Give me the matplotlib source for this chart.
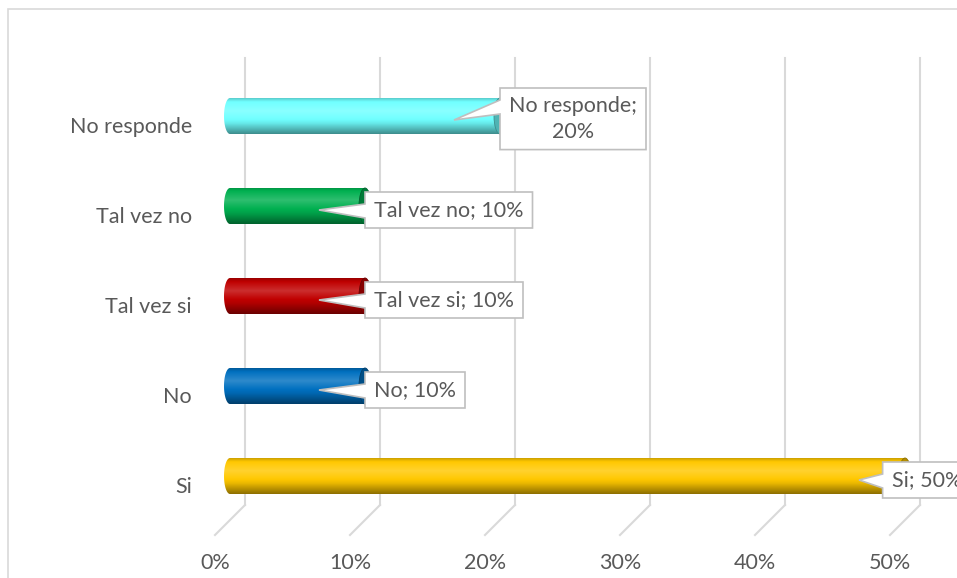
import matplotlib.pyplot as plt
import matplotlib.colors as mcolors
from matplotlib.patches import Ellipse, Polygon, Rectangle, PathPatch
from matplotlib.path import Path
import numpy as np

plt.rcParams['font.family'] = ['Lato', 'DejaVu Sans']

categories = ["Si", "No", "Tal vez si", "Tal vez no", "No responde"]
values = [50, 10, 10, 10, 20]
colors = ["#FFC800", "#0070C0", "#C00000", "#00B050", "#70FFFF"]
label_texts = ["Si; 50%", "No; 10%", "Tal vez si; 10%", "Tal vez no; 10%", "No responde;\n20%"]
xticks = [0, 10, 20, 30, 40, 50]

W, H = 957, 578
fig = plt.figure(figsize=(W / 100, H / 100), dpi=100)
ax = fig.add_axes([0, 0, 1, 1])

# the plot area is laid out in pixels: 0% at x=230, 13.5 px per percent, rows 90 px apart
pxu = 13.5
x0px, y0px, rowpx = 230, 476, 90
ax.set_xlim(-x0px / pxu, (W - x0px) / pxu)
ax.set_ylim((y0px - H) / rowpx, y0px / rowpx)
ax.axis("off")


def xd(px):
    return (px - x0px) / pxu


def yd(py):
    return (y0px - py) / rowpx


grid_c = "#d9d9d9"
text_c = "#595959"
fs = 15.5
depth = 15 / pxu

# outer chart frame
fig.patches.append(Rectangle((8 / W, -0.1), 1.2, 1.1 - 9 / H, transform=fig.transFigure,
                             fill=False, edgecolor=grid_c, lw=1.2))

# back-wall gridlines with floor slant
for v in xticks:
    ax.plot([v + depth, v + depth], [yd(58), yd(505)], color=grid_c, lw=1.5, zorder=1)
    ax.plot([v + depth, v - depth], [yd(505), yd(535)], color=grid_c, lw=1.5, zorder=1)
    ax.text(v - depth, yd(563), f"{v}%", ha="center", va="center", fontsize=fs, color=text_c)

for i, c in enumerate(categories):
    ax.text(xd(192), i - 11 / rowpx, c, ha="right", va="center", fontsize=fs, color=text_c)


def shade(c, f):
    rgb = np.array(mcolors.to_rgb(c))
    if f >= 1:
        return np.clip(rgb + (1 - rgb) * (f - 1), 0, 1)
    return rgb * f


h = 0.4
rx = 6 / pxu
tprof = np.linspace(0, 1, 120)
fprof = np.interp(tprof, [0, 0.1, 0.35, 0.7, 1], [0.8, 1.0, 1.18, 0.92, 0.55])

renderer = fig.canvas.get_renderer()

for i, (v, c, lab) in enumerate(zip(values, colors, label_texts)):
    img = np.array([[shade(c, f)] * 2 for f in fprof])
    im = ax.imshow(img, extent=(-rx, v, i - h / 2, i + h / 2), origin="upper",
                   aspect="auto", interpolation="bilinear", zorder=3)
    th = np.linspace(np.pi / 2, 3 * np.pi / 2, 40)
    verts = list(zip(rx * np.cos(th), i + h / 2 * np.sin(th)))
    verts += [(v, i - h / 2), (v, i + h / 2), (0, i + h / 2)]
    clip = PathPatch(Path(verts), facecolor="none", edgecolor="none")
    ax.add_patch(clip)
    im.set_clip_path(clip)
    ax.add_patch(Ellipse((v, i), 2 * rx, h, facecolor=shade(c, 0.7),
                         edgecolor=shade(c, 0.55), lw=0.6, zorder=4))

    # callout label
    t = ax.text(0, 0, lab, ha="center", va="center", fontsize=fs, color=text_c,
                linespacing=1.35, zorder=6)
    bb = t.get_window_extent(renderer)
    bw = bb.width + 18
    bh = bb.height + 16
    end_px = x0px + v * pxu
    left = min(end_px, 971 - bw)
    cy_px = y0px - i * rowpx
    top = cy_px - (14 if "\n" not in lab else 28)
    bot = top + bh
    tip = (end_px - 46, cy_px + 4)
    poly = [(left, top), (left + bw, top), (left + bw, bot), (left, bot),
            (left, top + 26), tip, (left, top + 12)]
    ax.add_patch(Polygon([(xd(a), yd(b)) for a, b in poly], closed=True,
                         facecolor="white", edgecolor="#bfbfbf", lw=1.2, zorder=5))
    t.set_position((xd(left + bw / 2), yd((top + bot) / 2)))

fig.savefig("out.png", dpi=100)
